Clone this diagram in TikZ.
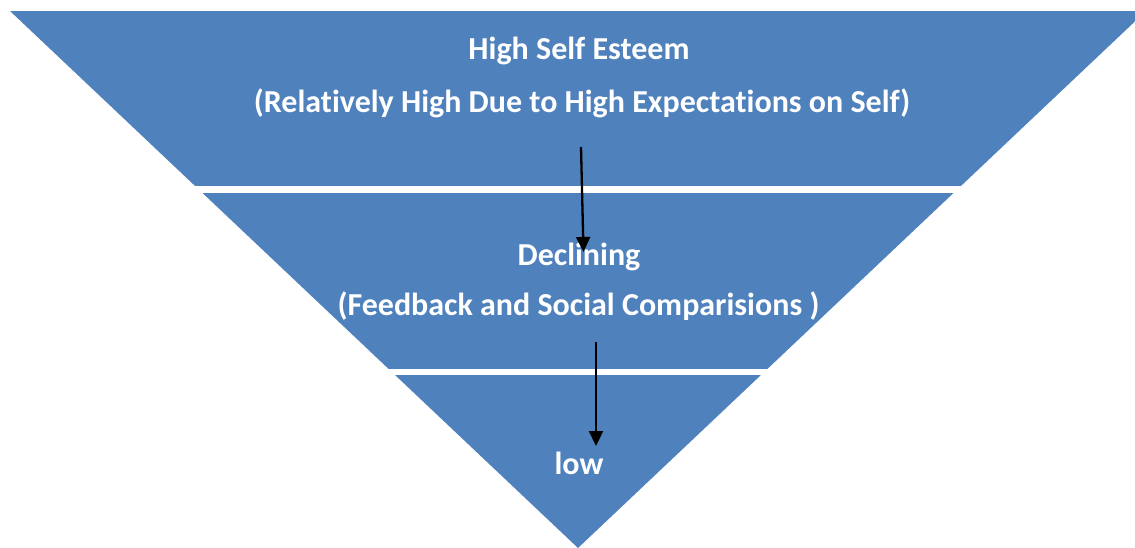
\documentclass[tikz,border=0pt]{standalone}
\usepackage{fontspec}
\setmainfont{Carlito}[RawFeature=-liga]
\usetikzlibrary{arrows.meta}
\definecolor{bandblue}{RGB}{79,129,189}

\begin{document}
\begin{tikzpicture}
[x=1pt,y=-1pt,
  bandDecorate/.style={fill=bandblue},
  labelDecorate/.style={text=white,font=\bfseries\fontsize{32}{38}\selectfont,inner sep=0pt},
  arrowDecorate/.style={-{Triangle[length=15pt,width=14pt]},line width=2.3pt,black}]
\useasboundingbox (0,0) rectangle (1135,548);
%% bands of the funnel
\begin{scope}
\clip (10,11) -- (1146,11) -- (578,548) -- cycle;
\foreach \top/\bottom in {11/186, 192.7/369.3, 375/548}
{
  \fill[bandDecorate] (0,\top) rectangle (1150,\bottom);
}
\end{scope}
%% labels
\foreach \name/\x/\y/\txt in {
  high/579/51/{High Self Esteem},
  highnote/582/103/{(Relatively High Due to High Expectations on Self)},
  decl/579/257/{Declining},
  declnote/578.5/306/{(Feedback and Social Comparisions )},
  low/579/463/{low}}
{
  \node (\name) at (\x,\y) [labelDecorate] {\txt};
}
%% arrows
\coordinate (from1) at (581,147);
\coordinate (to1) at (583.5,252);
\coordinate (from2) at (596,342);
\coordinate (to2) at (596,446);
\draw[arrowDecorate] (from1) -- (to1);
\draw[arrowDecorate] (from2) -- (to2);
\end{tikzpicture}
\end{document}
